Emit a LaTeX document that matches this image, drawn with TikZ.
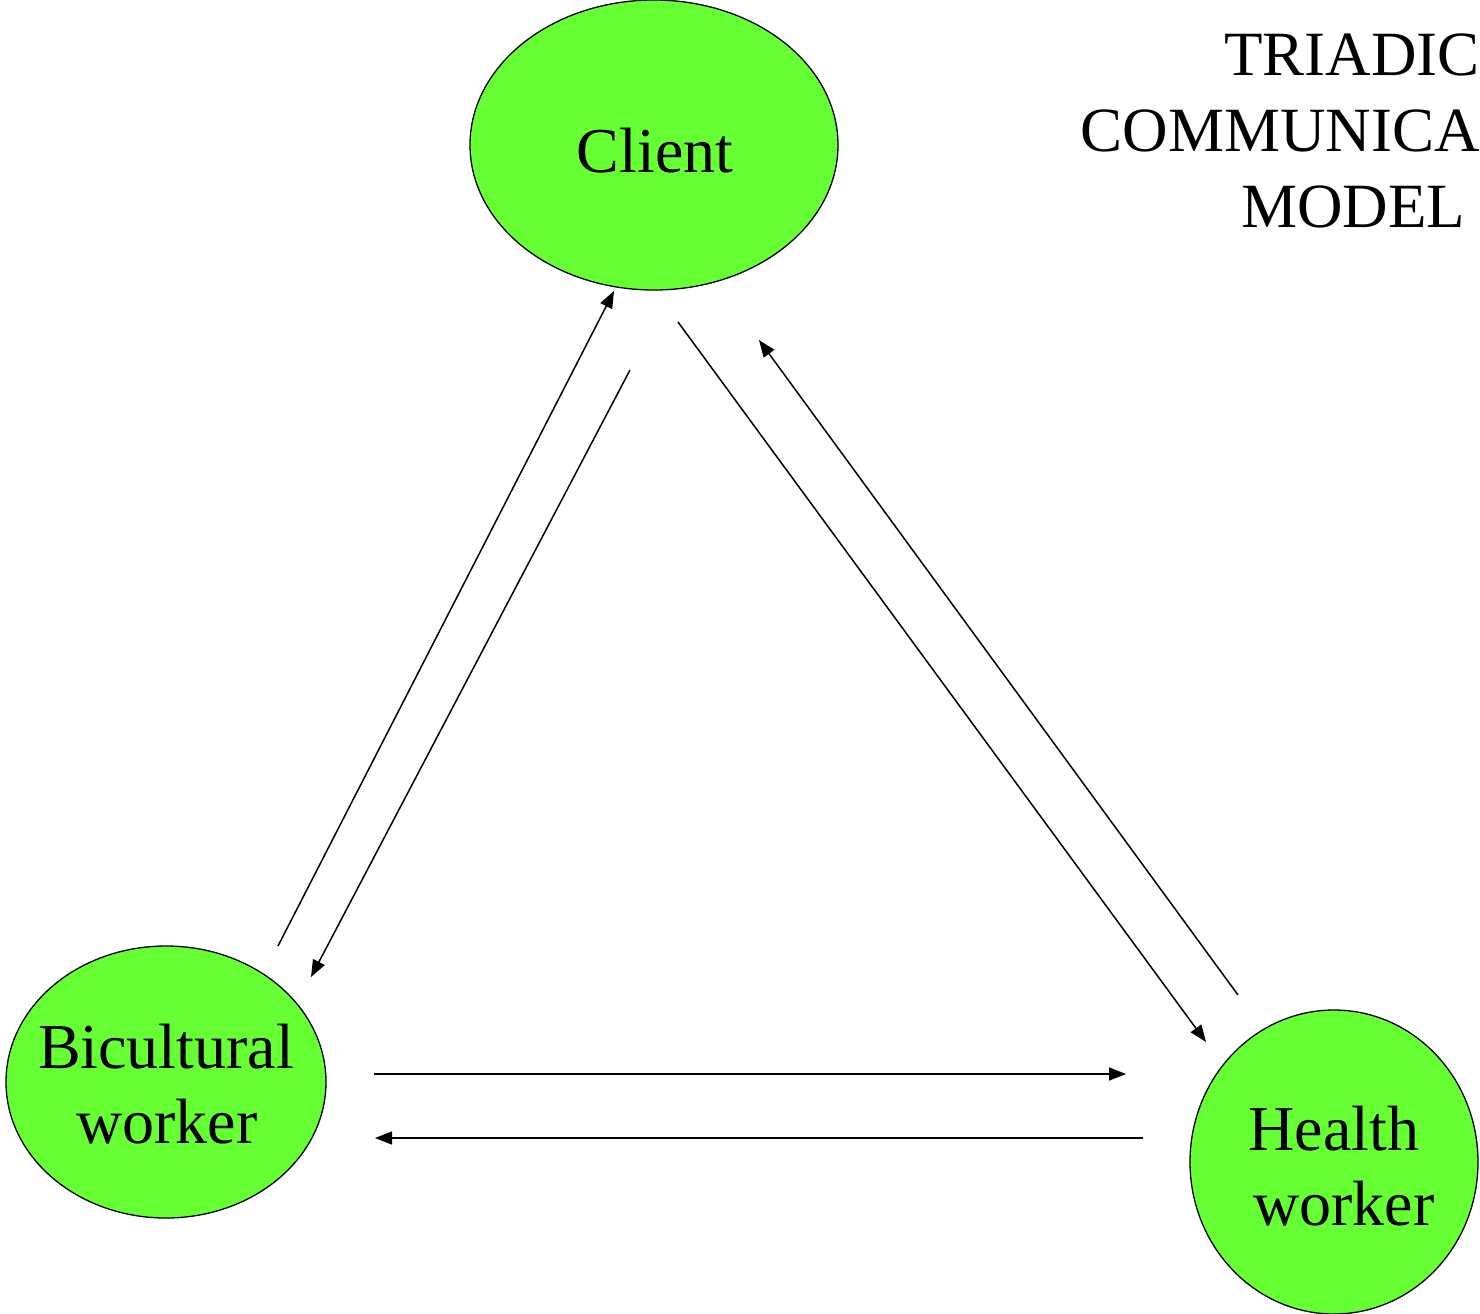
\documentclass[tikz,border=0pt]{standalone}
\usepackage{fontspec}
\setmainfont{Liberation Serif}
\usetikzlibrary{shapes.geometric,arrows.meta}
\definecolor{nodegreen}{HTML}{66FF33}
\begin{document}
\begin{tikzpicture}[x=1pt,y=-1pt,
  blob/.style={ellipse,draw=black,line width=1.3pt,fill=nodegreen,inner sep=0pt},
  lbl/.style={anchor=base,inner sep=0pt,font=\fontsize{64}{76}\selectfont},
  ttl/.style={anchor=base,inner sep=0pt,font=\fontsize{63}{76}\selectfont},
  conn/.style={line width=1.5pt,-{Triangle[length=17pt,width=13pt]}}]
\useasboundingbox (0,0) rectangle (1480,1314);
% ellipses
\node[blob,minimum width=368pt,minimum height=290pt] (client) at (654,145) {};
\node[blob,minimum width=320pt,minimum height=272pt] (bicult) at (166,1082) {};
\node[blob,minimum width=288pt,minimum height=304pt] (health) at (1334,1162) {};
% labels
\node[lbl] (tclient) at (655,172) {Client};
\node[lbl] (tbic1) at (166,1068) {Bicultural};
\node[lbl] (tbic2) at (167,1143) {worker};
\node[lbl] (thea1) at (1334,1150) {Health};
\node[lbl] (thea2) at (1344,1225) {worker};
% title
\node[ttl,anchor=base east] (t1) at (1480,75) {TRIADIC};
\node[ttl,anchor=base east] (t2) at (1480,151) {COMMUNICA};
\node[ttl] (t3) at (1353,227) {MODEL};
% connector end points
\coordinate (a1s) at (278,946);  \coordinate (a1e) at (614,291);
\coordinate (a2s) at (630,370);  \coordinate (a2e) at (311,977);
\coordinate (a3s) at (678,322);  \coordinate (a3e) at (1206,1042);
\coordinate (a4s) at (1238,995); \coordinate (a4e) at (759,340);
\coordinate (a5s) at (374,1074); \coordinate (a5e) at (1126,1074);
\coordinate (a6s) at (1143,1138);\coordinate (a6e) at (375,1138);
\draw[conn] (a1s) -- (a1e);
\draw[conn] (a2s) -- (a2e);
\draw[conn] (a3s) -- (a3e);
\draw[conn] (a4s) -- (a4e);
\draw[conn] (a5s) -- (a5e);
\draw[conn] (a6s) -- (a6e);
\end{tikzpicture}
\end{document}
